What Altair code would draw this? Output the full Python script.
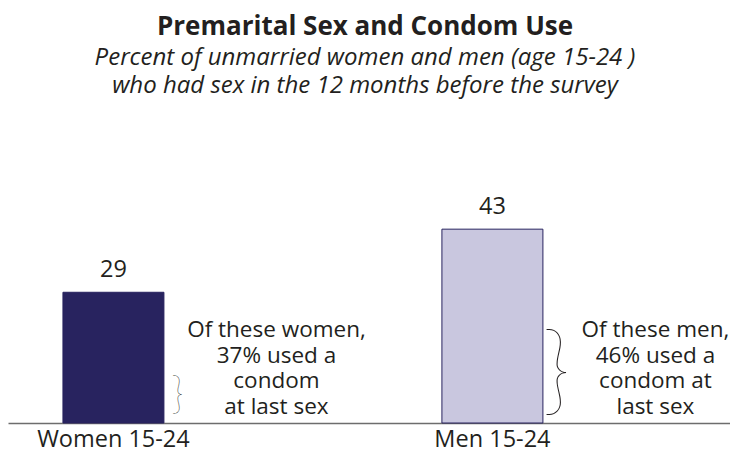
import altair as alt
import pandas as pd

groups = ["Women 15-24", "Men 15-24"]
values = [29, 43]
condom_pct = [37, 46]
notes = [
    ["Of these women,", "37% used a", "condom", "at last sex"],
    ["Of these men,", "46% used a", "condom at", "last sex"],
]
fill_colors = ["#28235f", "#c9c7df"]

df = pd.DataFrame({"group": groups, "value": values, "pct": condom_pct,
                   "note": notes, "fill": fill_colors})
df["share"] = df["value"] * df["pct"] / 100.0
df["brace_mid"] = df["share"] / 2.0
df["brace"] = "}"

FONT = "Open Sans"
TXT = "#231f20"

x = alt.X("group:N", sort=groups,
          scale=alt.Scale(paddingInner=0.7335, paddingOuter=0.3193, align=0.227),
          axis=alt.Axis(title=None, labelAngle=0, ticks=False, domainColor="#6d6d6d",
                        domainWidth=1.5, labelFontSize=23.5, labelFont=FONT,
                        labelColor=TXT, labelPadding=4))
y = alt.Y("value:Q", scale=alt.Scale(domain=[0, 63]), axis=None)

base = alt.Chart(df)
bars = base.mark_bar(stroke="#28235f", strokeWidth=1).encode(
    x=x, y=y, fill=alt.Fill("fill:N", scale=None))
labels = base.mark_text(baseline="alphabetic", dy=-15, fontSize=23.5, font=FONT,
                        color=TXT).encode(x=x, y=y, text="value:Q")
note_layer = base.mark_text(baseline="alphabetic", align="center", dx=163, dy=-86,
                            fontSize=22.5, lineHeight=25.7, font=FONT, color=TXT).encode(
    x=x, y=alt.datum(0), text="note")
braces = base.mark_text(baseline="middle", align="center", dx=64, dy=-4,
                        font="Lato", fontWeight=200, color=TXT).encode(
    x=x, y=alt.Y("brace_mid:Q"), text="brace:N",
    size=alt.Size("share:Q", scale=alt.Scale(domain=[10.7, 19.8], range=[43, 98], zero=False),
                  legend=None))

chart = alt.layer(bars, labels, note_layer, braces).properties(
    width=722, height=293,
    autosize=alt.AutoSizeParams(type="none"),
    padding={"left": 0, "top": 122, "right": 0, "bottom": 31},
    title=alt.TitleParams(
        "Premarital Sex  and Condom Use",
        subtitle=["Percent of unmarried women and men (age 15-24 )",
                  "who had sex  in the 12 months before the survey"],
        font=FONT, fontSize=26, fontWeight="bold", color=TXT,
        subtitleFont=FONT, subtitleFontSize=24, subtitleFontStyle="italic",
        subtitleColor=TXT, subtitleLineHeight=28, subtitlePadding=6,
        anchor="middle", offset=32, dx=-4),
).configure_view(stroke=None)

chart.save("out.html", embed_options={"renderer": "svg", "actions": False})
